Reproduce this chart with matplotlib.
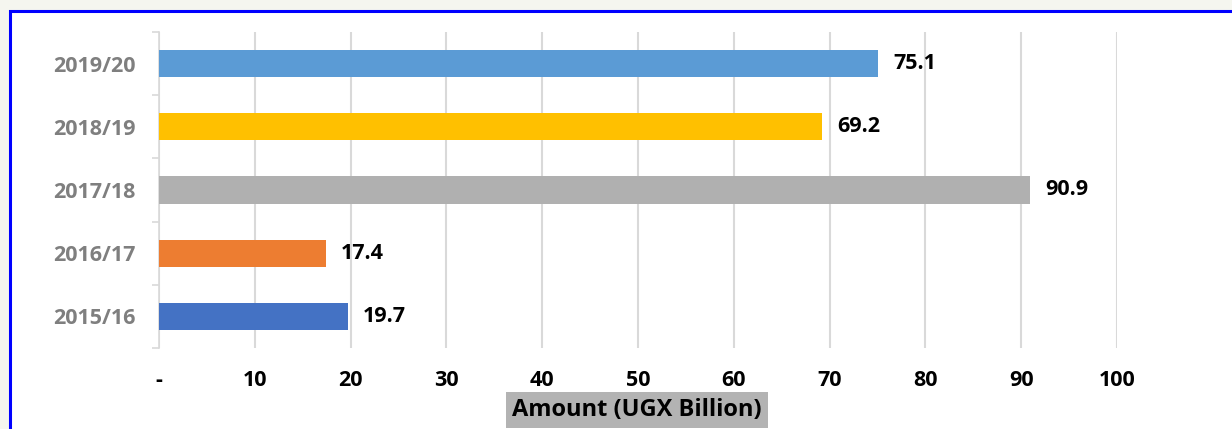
import matplotlib
matplotlib.use("Agg")
import matplotlib.pyplot as plt
from matplotlib.patches import Rectangle
from matplotlib.ticker import FixedLocator

years = ["2015/16", "2016/17", "2017/18", "2018/19", "2019/20"]
amounts = [19.7, 17.4, 90.9, 69.2, 75.1]
colors = ["#4472c4", "#ed7d31", "#b0b0b0", "#ffc000", "#5b9bd5"]
xticks = [0, 10, 20, 30, 40, 50, 60, 70, 80, 90, 100]
xticklabels = ["-", "10", "20", "30", "40", "50", "60", "70", "80", "90", "100"]

plt.rcParams['font.family'] = ['Open Sans', 'DejaVu Sans']

fig = plt.figure(figsize=(12.32, 4.29), dpi=100)
fig.patch.set_facecolor("#f5f6ef")
# white panel with blue frame
fig.patches.append(Rectangle((10/1232, -0.1), 1.2, 1 - 11/429 + 0.1, transform=fig.transFigure,
                             facecolor="white", edgecolor="#0000ff", linewidth=2.2, zorder=-5))

ax = fig.add_axes([159/1232, 1 - 348/429, (1117 - 159)/1232, (348 - 32)/429])
ax.set_zorder(2)
ax.set_facecolor("none")
ypos = list(range(len(years)))
ax.barh(ypos, amounts, height=0.43, color=colors, zorder=3)
for y, v in zip(ypos, amounts):
    ax.annotate(f"{v}", (v, y), xytext=(11, 0), textcoords="offset points",
                va="center", ha="left", fontsize=15.5, fontweight="bold", color="black")

ax.set_xlim(0, 100)
ax.set_ylim(-0.5, len(years) - 0.5)
ax.set_xticks(xticks)
ax.set_xticklabels(xticklabels, fontsize=15.5, fontweight="bold")
ax.tick_params(axis="x", length=0, pad=16)
ax.set_yticks(ypos)
ax.set_yticklabels(years, fontsize=15.5, fontweight="bold", color="#7f7f7f")
ax.tick_params(axis="y", length=0, pad=17)
ax.yaxis.set_minor_locator(FixedLocator([i - 0.5 for i in range(len(years) + 1)]))
ax.tick_params(axis="y", which="minor", length=5, color="#d9d9d9", width=1.2)
ax.grid(axis="x", color="#d9d9d9", linewidth=1.5, zorder=0)
for s in ["top", "right", "bottom"]:
    ax.spines[s].set_visible(False)
ax.spines["left"].set_color("#d9d9d9")
ax.spines["left"].set_linewidth(1.2)

fig.text(637/1232, 1 - 410/429, "Amount (UGX Billion)", ha="center", va="center",
         fontsize=17, fontweight="bold", color="black", zorder=5,
         bbox=dict(boxstyle="square,pad=0.25", facecolor="#b3b3b3", edgecolor="none"))

fig.savefig("out.png", dpi=100, facecolor=fig.get_facecolor())
